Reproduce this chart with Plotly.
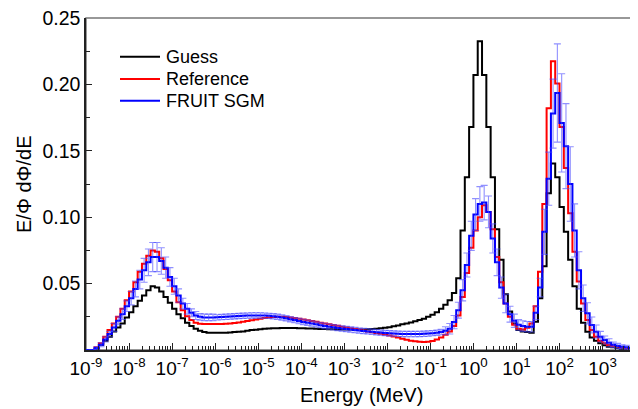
import numpy as np
import plotly.graph_objects as go

# ---------------- data ----------------
# energy bins: 10 per decade, lower edges from 1e-9 MeV
bin_start_exp = -9.0
bins_per_decade = 10

series_names = ["Guess", "Reference", "FRUIT SGM"]

guess = [
    0, 0, 0.001, 0.004, 0.007, 0.010, 0.014, 0.017, 0.020, 0.0245,
    0.0285, 0.033, 0.037, 0.041, 0.045, 0.048, 0.047, 0.044, 0.040, 0.0355,
    0.031, 0.027, 0.024, 0.0205, 0.018, 0.016, 0.0145, 0.0135, 0.013, 0.013,
    0.013, 0.013, 0.013, 0.0132, 0.0135, 0.0138, 0.014, 0.0145, 0.015, 0.0153,
    0.0157, 0.016, 0.0162, 0.0163, 0.0164, 0.0165, 0.0165, 0.0165, 0.0165, 0.0164,
    0.0163, 0.0162, 0.0161, 0.016, 0.0159, 0.0158, 0.0157, 0.0156, 0.0155, 0.0155,
    0.0154, 0.0154, 0.0154, 0.0154, 0.0155, 0.0156, 0.0158, 0.016, 0.0163, 0.0167,
    0.0172, 0.0178, 0.0185, 0.0193, 0.020, 0.0208, 0.0216, 0.0225, 0.0236, 0.025,
    0.0265, 0.0285, 0.031, 0.034, 0.0375, 0.043, 0.054, 0.090, 0.130, 0.168,
    0.207, 0.2325, 0.207, 0.168, 0.130, 0.091, 0.068, 0.042, 0.029, 0.020,
    0.015, 0.014, 0.0135, 0.013, 0.0213, 0.039, 0.063, 0.118, 0.1405, 0.130,
    0.1076, 0.089, 0.068, 0.048, 0.031, 0.0206, 0.0138, 0.0095, 0.007, 0.005,
    0.0035, 0.0025, 0.002, 0.0015, 0.001, 0.0007, 0.0005, 0.0003,
]

reference = [
    0, 0, 0.002, 0.005, 0.010, 0.015, 0.020, 0.025, 0.031, 0.0375,
    0.044, 0.051, 0.059, 0.065, 0.071, 0.075, 0.074, 0.069, 0.061, 0.0525,
    0.044, 0.036, 0.030, 0.0255, 0.0225, 0.0205, 0.0198, 0.0195, 0.0195, 0.0195,
    0.0195, 0.0196, 0.0198, 0.020, 0.0203, 0.0207, 0.0212, 0.0218, 0.0224, 0.023,
    0.0236, 0.0241, 0.0245, 0.0248, 0.025, 0.025, 0.0248, 0.0245, 0.0241, 0.0236,
    0.023, 0.0224, 0.0218, 0.0212, 0.0206, 0.020, 0.0194, 0.0188, 0.0182, 0.0176,
    0.017, 0.0164, 0.0158, 0.0152, 0.0146, 0.014, 0.0134, 0.0128, 0.0122, 0.0116,
    0.011, 0.0102, 0.0094, 0.0085, 0.0077, 0.0070, 0.0065, 0.0062, 0.006, 0.0062,
    0.0068, 0.008, 0.0095, 0.0115, 0.014, 0.018, 0.026, 0.040, 0.058, 0.077,
    0.090, 0.100, 0.109, 0.104, 0.091, 0.070, 0.051, 0.035, 0.025, 0.019,
    0.016, 0.0155, 0.0168, 0.020, 0.033, 0.059, 0.110, 0.182, 0.2174, 0.2006,
    0.168, 0.137, 0.103, 0.074, 0.0515, 0.035, 0.0226, 0.015, 0.010, 0.0068,
    0.005, 0.0038, 0.003, 0.0024, 0.0018, 0.0013, 0.0009, 0.0006,
]

fruit_sgm = [
    0, 0, 0.0015, 0.004, 0.008, 0.012, 0.017, 0.022, 0.027, 0.033,
    0.039, 0.046, 0.053, 0.060, 0.066, 0.070, 0.070, 0.067, 0.062, 0.055,
    0.048, 0.041, 0.035, 0.031, 0.028, 0.026, 0.025, 0.0245, 0.0245, 0.0245,
    0.0246, 0.0248, 0.025, 0.0252, 0.0254, 0.0256, 0.0258, 0.0259, 0.026, 0.026,
    0.026, 0.0259, 0.0257, 0.0254, 0.025, 0.0245, 0.0239, 0.0232, 0.0225, 0.0218,
    0.0211, 0.0205, 0.0199, 0.0193, 0.0187, 0.0181, 0.0176, 0.0171, 0.0166, 0.0162,
    0.0158, 0.0154, 0.015, 0.0146, 0.0143, 0.014, 0.0137, 0.0134, 0.0131, 0.0128,
    0.0126, 0.0124, 0.0122, 0.0121, 0.012, 0.012, 0.012, 0.0121, 0.0122, 0.0124,
    0.0127, 0.013, 0.0135, 0.0145, 0.016, 0.021, 0.030, 0.045, 0.064, 0.086,
    0.102, 0.110, 0.111, 0.104, 0.084, 0.066, 0.047, 0.035, 0.027, 0.022,
    0.019, 0.018, 0.0175, 0.0175, 0.028, 0.047, 0.089, 0.129, 0.178, 0.1935,
    0.171, 0.1535, 0.125, 0.090, 0.060, 0.039, 0.0276, 0.0188, 0.0138, 0.010,
    0.0075, 0.0055, 0.004, 0.003, 0.0025, 0.002, 0.0015, 0.001,
]

fruit_sgm_err = [
    0, 0, 0.001, 0.0015, 0.002, 0.002, 0.003, 0.003, 0.004, 0.004,
    0.005, 0.006, 0.007, 0.009, 0.010, 0.011, 0.011, 0.010, 0.008, 0.007,
    0.006, 0.005, 0.004, 0.004, 0.003, 0.003, 0.0025, 0.0025, 0.0025, 0.0025,
    0.002, 0.002, 0.002, 0.002, 0.002, 0.002, 0.002, 0.002, 0.002, 0.002,
    0.002, 0.002, 0.002, 0.002, 0.002, 0.002, 0.002, 0.002, 0.002, 0.002,
    0.002, 0.002, 0.002, 0.002, 0.002, 0.002, 0.002, 0.002, 0.002, 0.002,
    0.002, 0.002, 0.002, 0.002, 0.002, 0.002, 0.002, 0.002, 0.002, 0.002,
    0.002, 0.002, 0.002, 0.002, 0.002, 0.002, 0.002, 0.002, 0.002, 0.002,
    0.002, 0.002, 0.002, 0.003, 0.004, 0.005, 0.006, 0.008, 0.009, 0.011,
    0.012, 0.013, 0.013, 0.012, 0.011, 0.010, 0.008, 0.007, 0.006, 0.005,
    0.004, 0.004, 0.004, 0.004, 0.005, 0.007, 0.017, 0.020, 0.026, 0.037,
    0.037, 0.032, 0.028, 0.020, 0.014, 0.010, 0.008, 0.006, 0.005, 0.004,
    0.003, 0.003, 0.002, 0.002, 0.0015, 0.0015, 0.001, 0.001,
]

x_tick_exps = list(range(-9, 4))
x_tick_text = ["10<sup>%d</sup>" % p for p in x_tick_exps]
y_tick_vals = [0.05, 0.10, 0.15, 0.20, 0.25]
y_tick_text = ["0.05", "0.10", "0.15", "0.20", "0.25"]
y_minor_vals = [0.025, 0.075, 0.125, 0.175, 0.225]

# ---------------- geometry helpers ----------------
n_bins = len(guess)
log_lo = bin_start_exp + np.arange(n_bins) / bins_per_decade
log_hi = log_lo + 1.0 / bins_per_decade
e_lo = 10 ** log_lo
e_hi = 10 ** log_hi
e_mid = 10 ** ((log_lo + log_hi) / 2)


def step_xy(vals):
    xs = list(e_lo) + [e_hi[-1]]
    ys = list(vals) + [vals[-1]]
    return xs, ys


FONT = "Liberation Sans, Arial, Helvetica, sans-serif"
COLORS = ["#000000", "#ff0000", "#0000ff"]

# page body has an 8px margin; figure is sized/offset to fill 638x409 window
W, H = 630, 401
ML, MR, MT, MB = 78, 1, 10, 59
PW, PH = W - ML - MR, H - MT - MB

fig = go.Figure()

for name, vals, color in zip(series_names, [guess, reference, fruit_sgm], COLORS):
    xs, ys = step_xy(vals)
    fig.add_trace(go.Scatter(x=xs, y=ys, mode="lines", name=name,
                             line=dict(color=color, width=2, shape="hv")))

fig.add_trace(go.Scatter(
    x=e_mid, y=fruit_sgm, mode="markers", showlegend=False, hoverinfo="skip",
    name="FRUIT SGM uncertainty",
    marker=dict(size=1, color="rgba(0,0,0,0)"),
    error_y=dict(type="data", array=fruit_sgm_err, visible=True,
                 color="rgba(70,70,255,0.6)", thickness=1.1, width=3.5),
))


def px_x(px):
    return (px - 8 - ML) / PW


def px_y(py):
    return 1 - (py - 8 - MT) / PH


shapes = [dict(type="rect", xref="paper", yref="paper", x0=0, y0=0, x1=1, y1=1,
               line=dict(color="#777", width=1.5), layer="below")]
annotations = [
    dict(text="Energy (MeV)", xref="paper", yref="paper", x=0.5, y=px_y(395),
         xanchor="center", yanchor="middle", showarrow=False,
         font=dict(size=20, family=FONT)),
    dict(text="E/Φ dΦ/dE", xref="paper", yref="paper", x=px_x(24), y=0.5,
         xanchor="center", yanchor="middle", textangle=-90, showarrow=False,
         font=dict(size=20, family=FONT)),
]
legend_rows_px = [56.7, 79.0, 100.7]
for name, color, ry in zip(series_names, COLORS, legend_rows_px):
    shapes.append(dict(type="line", xref="paper", yref="paper",
                       x0=px_x(120), x1=px_x(160), y0=px_y(ry), y1=px_y(ry),
                       line=dict(color=color, width=2)))
    annotations.append(dict(text=name, xref="paper", yref="paper",
                            x=px_x(164), y=px_y(ry), xanchor="left",
                            yanchor="middle", showarrow=False,
                            font=dict(size=18, family=FONT)))

fig.update_layout(
    width=W, height=H,
    margin=dict(l=ML, r=MR, t=MT, b=MB, autoexpand=False),
    paper_bgcolor="white", plot_bgcolor="white",
    font=dict(family=FONT, size=19, color="black"),
    showlegend=False,
    xaxis=dict(type="log", range=[-9, 3.8], automargin=False,
               tickvals=[10.0 ** p for p in x_tick_exps], ticktext=x_tick_text,
               ticklabeloverflow="allow",
               ticks="inside", ticklen=7, tickwidth=1.2, tickcolor="#222",
               showline=True, linecolor="#222", linewidth=1.5,
               showgrid=False, zeroline=False,
               minor=dict(ticks="inside", ticklen=4, tickwidth=1, tickcolor="#222",
                          dtick="D1", showgrid=False),
               tickfont=dict(size=19, family=FONT)),
    yaxis=dict(range=[0, 0.25], tickvals=y_tick_vals, ticktext=y_tick_text,
               automargin=False, ticklabeloverflow="allow",
               ticks="inside", ticklen=6, tickwidth=1.2, tickcolor="#222",
               showline=True, linecolor="#222", linewidth=1.5,
               showgrid=False, zeroline=False,
               minor=dict(tickvals=y_minor_vals, ticks="inside", ticklen=4,
                          tickwidth=1, tickcolor="#222", showgrid=False),
               tickfont=dict(size=19.5, family=FONT)),
    shapes=shapes,
    annotations=annotations,
)

fig.write_html("out.html")
